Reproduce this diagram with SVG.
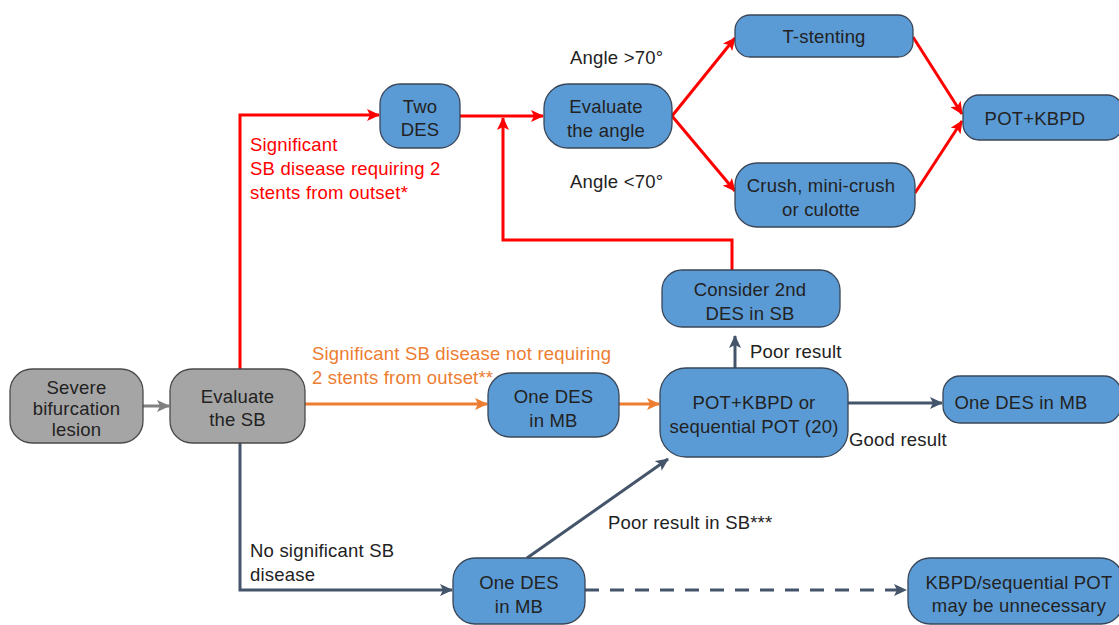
<svg xmlns="http://www.w3.org/2000/svg" width="1119" height="625" viewBox="0 0 1119 625">
<style>
  text { font-family: "Liberation Sans", Arial, sans-serif; font-size: 18.5px; letter-spacing: 0.2px; fill: #222; }
  .c { text-anchor: middle; }
  .blue { fill: #5B9BD5; stroke: #3A4657; stroke-width: 1.3; }
  .gray { fill: #A5A5A5; stroke: #4A4A4A; stroke-width: 1.3; }
  .red { fill: none; stroke: #FF0000; stroke-width: 3; }
  .org { fill: none; stroke: #ED7D31; stroke-width: 3; }
  .dk { fill: none; stroke: #44546A; stroke-width: 3; }
  .gr { fill: none; stroke: #808080; stroke-width: 3; }
  .rt { fill: #FF0000; }
  .ot { fill: #ED7D31; }
</style>
<defs>
  <marker id="aR" markerUnits="userSpaceOnUse" markerWidth="14" markerHeight="12" refX="12" refY="6" orient="auto"><path d="M0,0 L13,6 L0,12 L3,6 z" fill="#FF0000"/></marker>
  <marker id="aO" markerUnits="userSpaceOnUse" markerWidth="14" markerHeight="12" refX="12" refY="6" orient="auto"><path d="M0,0 L13,6 L0,12 L3,6 z" fill="#ED7D31"/></marker>
  <marker id="aD" markerUnits="userSpaceOnUse" markerWidth="14" markerHeight="12" refX="12" refY="6" orient="auto"><path d="M0,0 L13,6 L0,12 L3,6 z" fill="#44546A"/></marker>
  <marker id="aG" markerUnits="userSpaceOnUse" markerWidth="14" markerHeight="12" refX="12" refY="6" orient="auto"><path d="M0,0 L13,6 L0,12 L3,6 z" fill="#808080"/></marker>
</defs>

<g id="connectors">
  <line class="gr" x1="143" y1="406" x2="169" y2="406" marker-end="url(#aG)"/>
  <polyline class="red" points="240,369 240,115 379,115" marker-end="url(#aR)"/>
  <line class="red" x1="460" y1="116" x2="543" y2="116" marker-end="url(#aR)"/>
  <polyline class="red" points="732,270 732,240 503,240 503,118" marker-end="url(#aR)"/>
  <line class="red" x1="672" y1="116" x2="735" y2="38" marker-end="url(#aR)"/>
  <line class="red" x1="672" y1="116" x2="735" y2="191" marker-end="url(#aR)"/>
  <line class="red" x1="913" y1="37" x2="962" y2="114" marker-end="url(#aR)"/>
  <line class="red" x1="915" y1="193" x2="962" y2="121" marker-end="url(#aR)"/>
  <line class="org" x1="305" y1="404" x2="487" y2="404" marker-end="url(#aO)"/>
  <line class="org" x1="619" y1="404" x2="659" y2="404" marker-end="url(#aO)"/>
  <line class="dk" x1="735" y1="368" x2="735" y2="336" marker-end="url(#aD)"/>
  <line class="dk" x1="848" y1="403" x2="942" y2="403" marker-end="url(#aD)"/>
  <polyline class="dk" points="240,443 240,590 452,590" marker-end="url(#aD)"/>
  <line class="dk" x1="527" y1="558" x2="668" y2="459" marker-end="url(#aD)"/>
  <line class="dk" x1="585" y1="590" x2="906" y2="590" stroke-dasharray="14,11" marker-end="url(#aD)"/>
</g>

<g id="labels">
  <text class="rt" x="250" y="151">Significant</text>
  <text class="rt" x="250" y="175">SB disease requiring 2</text>
  <text class="rt" x="250" y="199">stents from outset*</text>
  <text class="ot" x="312" y="360">Significant SB disease not requiring</text>
  <text class="ot" x="312" y="384">2 stents from outset**</text>
  <text x="570" y="64">Angle &gt;70°</text>
  <text x="570" y="188">Angle &lt;70°</text>
  <text x="750" y="358">Poor result</text>
  <text x="849" y="446">Good result</text>
  <text x="608" y="529">Poor result in SB***</text>
  <text x="250" y="557">No significant SB</text>
  <text x="250" y="581">disease</text>
</g>

<g id="n-severe">
  <rect class="gray" x="10" y="369" width="133" height="74" rx="22"/>
  <text class="c" x="76.5" y="394">Severe</text>
  <text class="c" x="76.5" y="415">bifurcation</text>
  <text class="c" x="76.5" y="436">lesion</text>
</g>
<g id="n-evalsb">
  <rect class="gray" x="170" y="369" width="135" height="74" rx="22"/>
  <text class="c" x="237.5" y="403">Evaluate</text>
  <text class="c" x="237.5" y="426">the SB</text>
</g>
<g id="n-twodes">
  <rect class="blue" x="380" y="84" width="80" height="64" rx="20"/>
  <text class="c" x="420" y="113">Two</text>
  <text class="c" x="420" y="136">DES</text>
</g>
<g id="n-evalangle">
  <rect class="blue" x="544" y="84" width="128" height="64" rx="24"/>
  <text class="c" x="606" y="113">Evaluate</text>
  <text class="c" x="606" y="137">the angle</text>
</g>
<g id="n-tstent">
  <rect class="blue" x="735" y="15" width="178" height="42" rx="15"/>
  <text class="c" x="824" y="43">T-stenting</text>
</g>
<g id="n-crush">
  <rect class="blue" x="735" y="163" width="180" height="64" rx="22"/>
  <text class="c" x="821" y="192">Crush, mini-crush</text>
  <text class="c" x="821" y="216">or culotte</text>
</g>
<g id="n-potkbpd">
  <rect class="blue" x="963" y="95" width="160" height="45" rx="16"/>
  <text class="c" x="1035" y="125">POT+KBPD</text>
</g>
<g id="n-consider">
  <rect class="blue" x="662" y="270" width="178" height="57" rx="20"/>
  <text class="c" x="750" y="296">Consider 2nd</text>
  <text class="c" x="750" y="320">DES in SB</text>
</g>
<g id="n-potor">
  <rect class="blue" x="660" y="368" width="188" height="89" rx="26"/>
  <text class="c" x="754" y="409">POT+KBPD or</text>
  <text class="c" x="754" y="433">sequential POT (20)</text>
</g>
<g id="n-onedes-right">
  <rect class="blue" x="943" y="376" width="178" height="47" rx="17"/>
  <text class="c" x="1021" y="409">One DES in MB</text>
</g>
<g id="n-onedes-mid">
  <rect class="blue" x="488" y="373" width="131" height="64" rx="22"/>
  <text class="c" x="553.5" y="403">One DES</text>
  <text class="c" x="553.5" y="427">in MB</text>
</g>
<g id="n-onedes-bot">
  <rect class="blue" x="453" y="558" width="132" height="66" rx="22"/>
  <text class="c" x="519" y="589">One DES</text>
  <text class="c" x="519" y="613">in MB</text>
</g>
<g id="n-kbpd">
  <rect class="blue" x="908" y="558" width="215" height="66" rx="22"/>
  <text class="c" x="1019" y="589">KBPD/sequential POT</text>
  <text class="c" x="1019" y="612">may be unnecessary</text>
</g>
</svg>
